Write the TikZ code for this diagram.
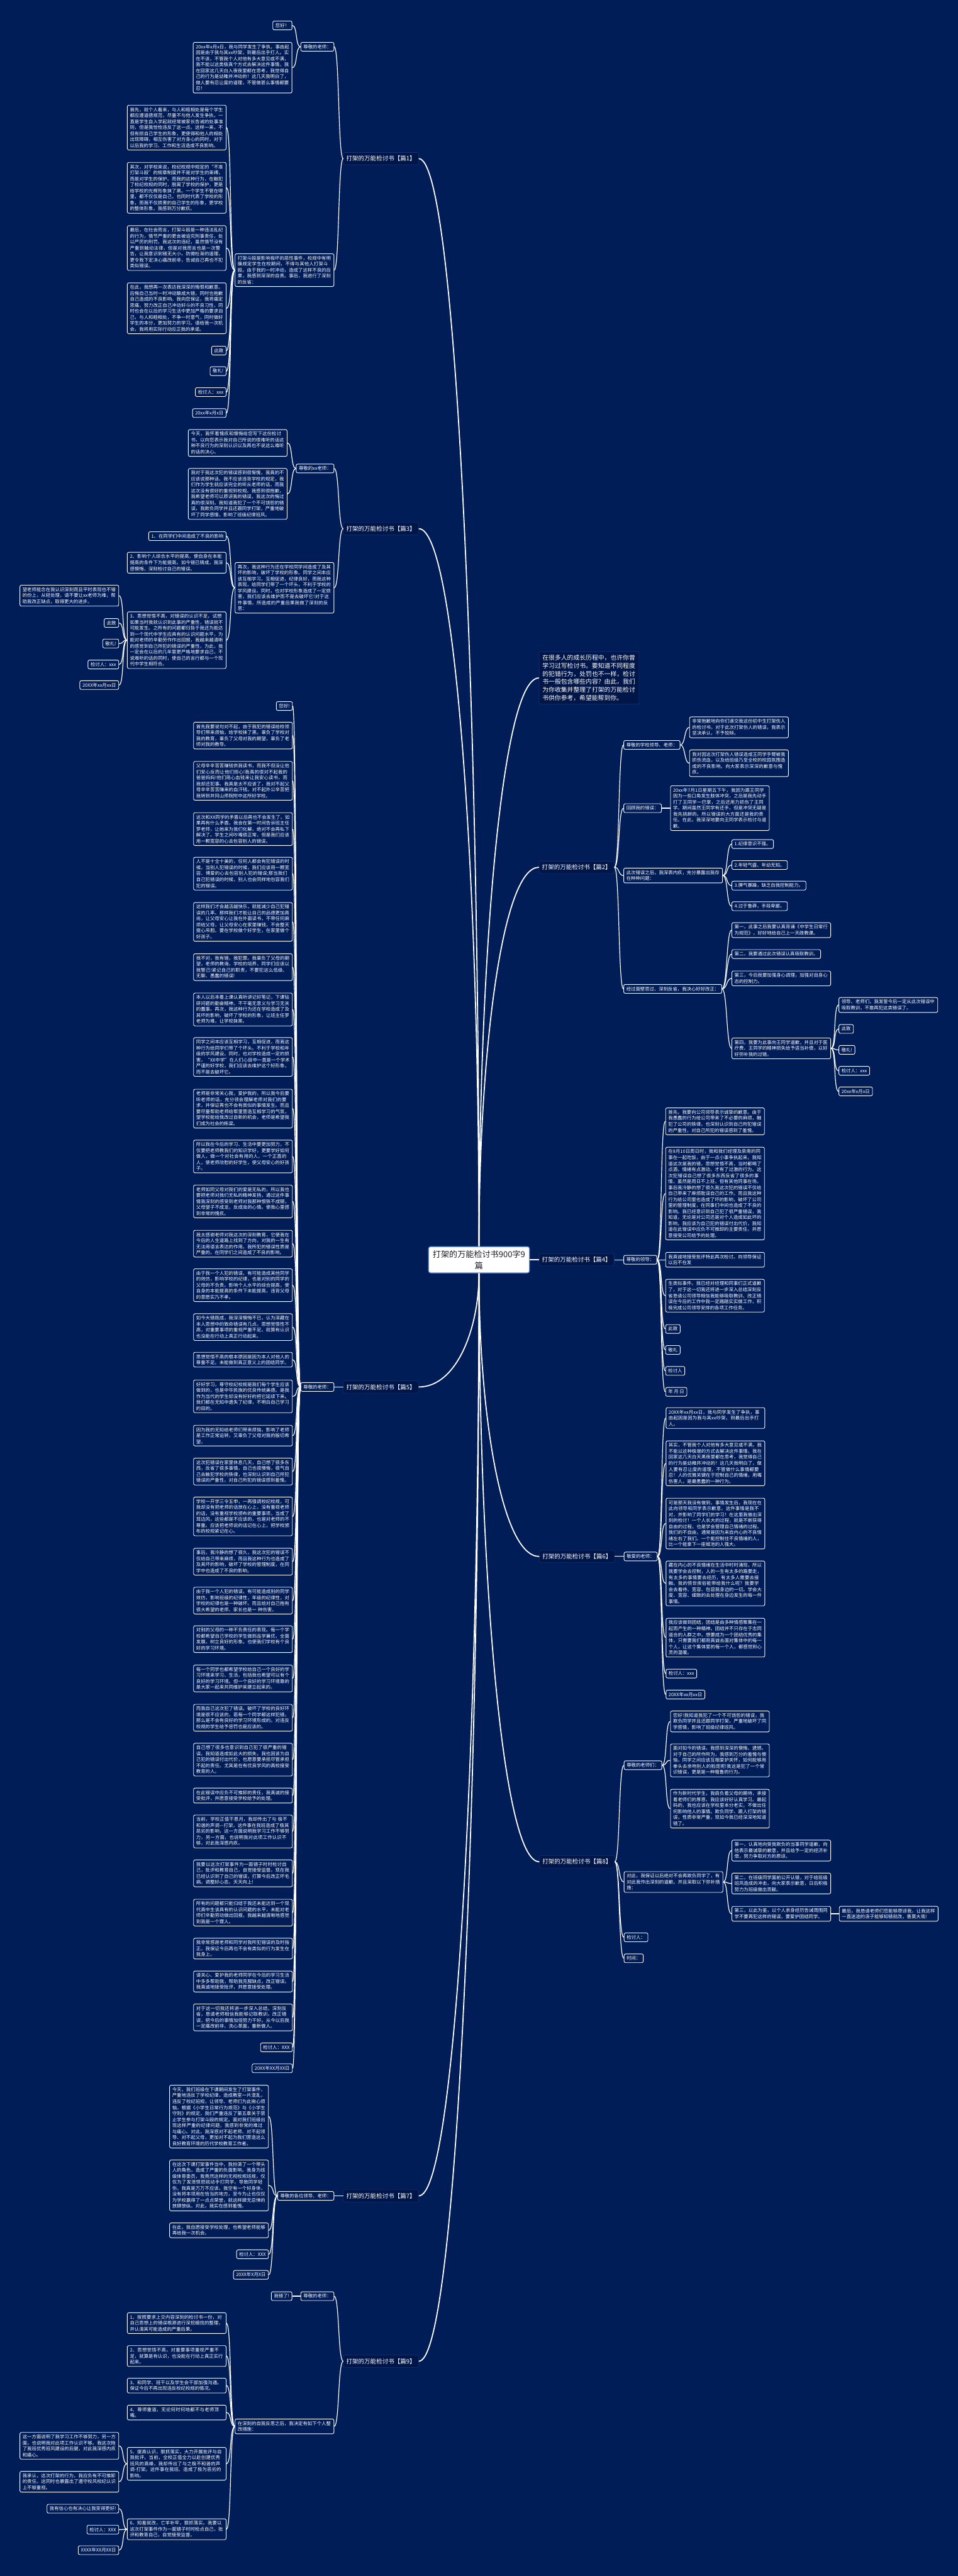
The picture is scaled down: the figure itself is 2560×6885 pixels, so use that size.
\documentclass[tikz,border=0pt]{standalone}
\usepackage{fontspec}
\setmainfont{Noto Sans CJK SC}
\XeTeXlinebreaklocale "zh"
\XeTeXlinebreakskip=0pt plus 1pt
\definecolor{bgc}{RGB}{1,29,88}
\definecolor{brc}{RGB}{0,22,72}
\definecolor{brd}{RGB}{25,50,115}
\definecolor{cbd}{RGB}{90,140,220}
\newcommand\myfs{\fontsize{12.4pt}{16pt}\selectfont}
\newcommand\myfb{\fontsize{16pt}{20pt}\selectfont}
\newcommand\myfi{\fontsize{16.5pt}{21.3pt}\selectfont}
\newcommand\myfc{\fontsize{22pt}{30pt}\selectfont}
\begin{document}
\begin{tikzpicture}[x=1pt,y=-1pt,
  lf/.style={draw=white,line width=1.5pt,fill=bgc,rounded corners=4pt,text=white,font=\myfs,inner xsep=7pt,inner ysep=6pt,align=left},
  lw/.style={lf,text width=250pt},
  br/.style={fill=brc,draw=brd,line width=1pt,rounded corners=4pt,text=white,font=\myfb,inner xsep=8pt,inner ysep=9pt},
  intro/.style={fill=brc,draw=brd,line width=1pt,rounded corners=4pt,text=white,font=\myfi,inner sep=9pt,text width=249pt,align=left},
  cen/.style={fill=white,draw=cbd,line width=2pt,rounded corners=6pt,text={rgb,255:red,30;green,30;blue,40},font=\myfc,inner sep=10pt,text width=250pt,align=center},
  ed/.style={draw=white,line width=2pt},
  tr/.style={draw=white,line width=3pt}]
\fill[bgc] (0,0) rectangle (2560,6885);
\useasboundingbox (0,0) rectangle (2560,6885);

% ---------- centre ----------
\node[cen] (c) at (1280,3367) {打架的万能检讨书900字9\\篇};

% ---------- 篇1 ----------
\node[br,anchor=east] (p1) at (1119,424) {打架的万能检讨书【篇1】};
\node[lf,anchor=east] (p1a) at (893,125) {尊敬的老师：};
\node[lf,anchor=east] (p1a1) at (781,68) {您好！};
\node[lw,anchor=east] (p1a2) at (781,181) {20xx年x月x日，我与同学发生了争执，事由起因是由于我与其xx吵架，到最后出手打人。实在不该，不管我个人对他有多大意见或不满，我不能以这类极真个方式去解决这件事情，我在回家这几天白入夜夜里都在思考，我觉得自己的行为是幼稚并冲动的！这几天我明白了，做人要有忍让度的道理，不管做甚么事情都要忍！};
\node[lw,anchor=east] (p1b) at (893,722) {打架斗殴是影响极坏的恶性事件，校规中有明确规定学生在校期间，不得与其他人打架斗殴。由于我的一时冲动，造成了这样不良的后果，我感到深深的自责。事后，我进行了深刻的反省：};
\node[lw,anchor=east] (p1b1) at (605,341) {首先，就个人看来，与人和睦相处是每个学生都应遵道德规范，尽量不与他人发生争执，一直是学生自入学起就经常被家长告诫的处事准则，但是我恰恰违反了这一点。这样一来，不但有损自己学生的形象，更使得和他人的相处出现障碍，相互伤害了对方身心的同时，对于以后我的学习、工作和生活造成不良影响。};
\node[lw,anchor=east] (p1b2) at (605,502) {其次，对学校来说，校纪校规中规定的“不准打架斗殴”的规章制度并不是对学生的束缚，而是对学生的保护。而我的这种行为，在触犯了校纪校规的同时，脱离了学校的保护，更是给学校的光辉形象抹了黑。一个学生不管在哪里，都不仅仅是自己，也同时代表了学校的形象，而我不仅损害的自己学生的形象，更学校的整体形象，我感到万分歉疚。};
\node[lw,anchor=east] (p1b3) at (605,663) {最后，在社会而言，打架斗殴是一种违法乱纪的行为，情节严重的更会被追究刑事责任，处以严厉的刑罚。我这次的违纪，虽然情节没有严重到触动法律，但是对我而言也是一次警告，让我意识到错无大小，防微杜渐的道理，更令我下定决心痛改前非，告诫自己再也不犯类似错误。};
\node[lw,anchor=east] (p1b4) at (605,824) {在此，我想再一次表达我深深的悔恨和歉意。后悔自己当时一时冲动酿成大错，同时也抱歉自己造成的不良影响。我向您保证，我将痛定思痛，努力改正自己冲动好斗的不良习性，同时也会在以后的学习生活中更加严格的要求自己，与人和睦相处，不争一时意气，同时做好学生的本分，更加努力的学习。请给我一次机会，我将用实际行动应正我的承诺。};
\node[lf,anchor=east] (p1b5) at (605,937) {此致};
\node[lf,anchor=east] (p1b6) at (605,992) {敬礼!};
\node[lf,anchor=east] (p1b7) at (605,1048) {检讨人：xxx};
\node[lf,anchor=east] (p1b8) at (605,1104) {20xx年x月x日};
\draw[tr] (c.north) .. controls +(0,-1452) and +(100,0) .. (p1.east);
\foreach \k in {p1a,p1b} \draw[ed] (p1.west) .. controls +(-14,0) and +(14,0) .. (\k.east);
\foreach \k in {p1a1,p1a2} \draw[ed] (p1a.west) .. controls +(-14,0) and +(14,0) .. (\k.east);
\foreach \k in {p1b1,p1b2,p1b3,p1b4,p1b5,p1b6,p1b7,p1b8} \draw[ed] (p1b.west) .. controls +(-14,0) and +(14,0) .. (\k.east);

% ---------- 篇3 ----------
\node[br,anchor=east] (p3) at (1119,1413) {打架的万能检讨书【篇3】};
\node[lf,anchor=east] (p3a) at (893,1252) {尊敬的xx老师：};
\node[lw,anchor=east] (p3a1) at (768,1184) {今天，我怀着愧疚和懊悔给您写下这份检讨书，以向您表示我对自己所说的很难听的话这种不良行为的深刻认识以及再也不说这么难听的话的决心。};
\node[lw,anchor=east] (p3a2) at (768,1320) {我对于我这次犯的错误感到很惭愧，我真的不应该说那种话，我不应该违背学校的规定，我们作为学生就应该完全的听从老师的话，而我这次没有很好的重视到校规。我感到很抱歉，我希望老师可以原谅我的错误，我这次的悔过真的很深刻。我知道我犯了一个不可饶恕的错误，我欺负同学并且还跟同学打架，严重地破坏了同学感情，影响了班级纪律班风。};
\node[lw,anchor=east] (p3b) at (893,1571) {再次，我这种行为还在学校同学间造成了及其坏的影响，破坏了学校的形象。同学之间本应该互相学习，互相促进，纪律良好，而我这种表现，给同学们带了一个坏头，不利于学校的学风建设。同时，也对学校形象造成了一定损害，我们应该去维护而不是去破坏它!对于这件事情，所造成的严重后果我做了深刻的反思：};
\node[lf,anchor=east] (p3b1) at (605,1433) {1、在同学们中间造成了不良的影响};
\node[lw,anchor=east] (p3b2) at (605,1504) {2、影响个人综合水平的提高，使自身在本能提高的条件下为能提高。如今错已铸成，我深感懊悔，深刻检讨自己的错误。};
\node[lw,anchor=east] (p3b3) at (605,1711) {3、思想觉悟不高，对错误的认识不足，试想如果当时我就认识到此事的严重性，错误就不可能发生。之所有的问题都归咎于我还为能达到一个现代中学生应具有的认识问题水平，为能对老师的辛勤劳作作出回报，我越来越清晰的感觉到自己所犯的错误的严重性，为此，我一定会在以后的几年里更严格地要求自己，不说难听的话的同时，使自己的言行都与一个现代中学生相符合。};
\node[lw,anchor=east] (p3c1) at (318,1592) {望老师能念在我认识深刻而且平时表现也不错的份上，从轻处理，请不要让xx老师为难，帮助我改正缺点，取得更大的进步。};
\node[lf,anchor=east] (p3c2) at (318,1665) {此致};
\node[lf,anchor=east] (p3c3) at (318,1720) {敬礼!};
\node[lf,anchor=east] (p3c4) at (318,1776) {检讨人：xxx};
\node[lf,anchor=east] (p3c5) at (318,1831) {20XX年xx月xx日};
\draw[tr] (c.north) .. controls +(0,-958) and +(100,0) .. (p3.east);
\foreach \k in {p3a,p3b} \draw[ed] (p3.west) .. controls +(-14,0) and +(14,0) .. (\k.east);
\foreach \k in {p3a1,p3a2} \draw[ed] (p3a.west) .. controls +(-14,0) and +(14,0) .. (\k.east);
\foreach \k in {p3b1,p3b2,p3b3} \draw[ed] (p3b.west) .. controls +(-14,0) and +(14,0) .. (\k.east);
\foreach \k in {p3c1,p3c2,p3c3,p3c4,p3c5} \draw[ed] (p3b3.west) .. controls +(-14,0) and +(14,0) .. (\k.east);

% ---------- intro ----------
\node[intro,anchor=west] (in) at (1440,1812) {在很多人的成长历程中，也许你曾学习过写检讨书。要知道不同程度的犯错行为，处罚也不一样，检讨书一般包含哪些内容？由此，我们为你收集并整理了打架的万能检讨书供你参考，希望能帮到你。};
\draw[tr] (c.north) .. controls +(0,-758) and +(-100,0) .. (in.west);

% ---------- 篇2 ----------
\node[br,anchor=west] (p2) at (1440,2318) {打架的万能检讨书【篇2】};
\node[lf,anchor=west] (p2a) at (1666,1991) {尊敬的学校领导、老师：};
\node[lw,anchor=west] (p2a1) at (1842,1944) {非常抱歉地向你们递交我这份初中生打架伤人的检讨书。对于此次打架伤人的错误，我表示坚决承认，不予狡辩。};
\node[lw,anchor=west] (p2a2) at (1842,2040) {我对因这次打架伤人错误造成王同学手臂被我抓伤流血，以及给班级乃至全校的校园氛围造成的不良影响。向大家表示深深的歉意与愧疚。};
\node[lf,anchor=west] (p2b) at (1666,2160) {回顾我的错误：};
\node[lw,anchor=west] (p2b1) at (1791,2160) {20xx年7月1日星期五下午，我因为跟王同学因为一些口角发生肢体冲突，之后是我先动手打了王同学一巴掌，之后还用力抓伤了王同学。期间虽然王同学有还手，但是冲突无疑是我先挑衅的。所以错误的大方面还是我的责任。在此，我深深地要向王同学表示检讨与道歉。};
\node[lw,anchor=west] (p2c) at (1666,2340) {此次错误之后，我深表内疚，充分暴露出我存在种种问题：};
\node[lf,anchor=west] (p2c1) at (1955,2256) {1.纪律意识不强。};
\node[lf,anchor=west] (p2c2) at (1955,2312) {2.年轻气盛、年幼无知。};
\node[lf,anchor=west] (p2c3) at (1955,2367) {3.脾气暴躁，缺乏自我控制能力。};
\node[lf,anchor=west] (p2c4) at (1955,2422) {4.过于鲁莽，手段卑鄙。};
\node[lf,anchor=west] (p2d) at (1666,2643) {经过面壁思过、深刻反省，我决心好好改正：};
\node[lw,anchor=west] (p2d1) at (1955,2486) {第一，此事之后我要认真背诵《中学生日常行为规范》，好好地给自己上一天政教课。};
\node[lf,anchor=west] (p2d2) at (1955,2550) {第二，我要通过此次错误认真吸取教训。};
\node[lw,anchor=west] (p2d3) at (1955,2615) {第三，今后我要加强身心调理，加强对自身心态的控制力。};
\node[lw,anchor=west] (p2d4) at (1955,2802) {第四，我要为此事向王同学道歉，并且对于医疗费、王同学的精神损失给予适当补偿，以好好弥补我的过错。};
\node[lw,anchor=west] (p2e1) at (2241,2686) {领导、老师们，我发誓今后一定从此次错误中吸取教训，不敢再犯这类错误了。};
\node[lf,anchor=west] (p2e2) at (2241,2750) {此致};
\node[lf,anchor=west] (p2e3) at (2241,2806) {敬礼!};
\node[lf,anchor=west] (p2e4) at (2241,2862) {检讨人：xxx};
\node[lf,anchor=west] (p2e5) at (2241,2917) {20xx年x月x日};
\draw[tr] (c.north) .. controls +(0,-505) and +(-100,0) .. (p2.west);
\foreach \k in {p2a,p2b,p2c,p2d} \draw[ed] (p2.east) .. controls +(14,0) and +(-14,0) .. (\k.west);
\foreach \k in {p2a1,p2a2} \draw[ed] (p2a.east) .. controls +(14,0) and +(-14,0) .. (\k.west);
\draw[ed] (p2b.east) -- (p2b1.west);
\foreach \k in {p2c1,p2c2,p2c3,p2c4} \draw[ed] (p2c.east) .. controls +(14,0) and +(-14,0) .. (\k.west);
\foreach \k in {p2d1,p2d2,p2d3,p2d4} \draw[ed] (p2d.east) .. controls +(14,0) and +(-14,0) .. (\k.west);
\foreach \k in {p2e1,p2e2,p2e3,p2e4,p2e5} \draw[ed] (p2d4.east) .. controls +(14,0) and +(-14,0) .. (\k.west);

% ---------- 篇4 ----------
\node[br,anchor=west] (p4) at (1440,3367) {打架的万能检讨书【篇4】};
\node[lf,anchor=west] (p4a) at (1666,3367) {尊敬的领导：};
\node[lw,anchor=west] (p4a1) at (1778,2997) {首先，我要向公司领导表示诚挚的歉意。由于我愚蠢的行为给公司带来了不必要的麻烦，触犯了公司的铁律，也深刻认识到自己所犯错误的严重性，对自己所犯的错误感到了羞愧。};
\node[lw,anchor=west] (p4a2) at (1778,3190) {在8月10日周日时，我和我们经理及泉南的同事在一起吃饭，由于一点小事争执起来，我知道这次是我的错，思想觉悟不高，当时都喝了点酒，情绪有点激动，才有了过激的行为。这次犯错误自己想了很多东西反省了很多的事情，虽然是周日不上班，但有其他同事在场。事后我冷静的想了很久我这次犯的错误不仅给自己带来了麻烦耽误自己的工作。而且我这种行为给公司里也造成了坏的影响，破坏了公司里的管理制度，在同事们中间也造成了不良的影响。我已经意识到自己犯了很严重错误，我知道，无论是对公司还是对个人造成如此坏的影响，我应该为自己犯的错误付出代价，我知道在此错误中应负不可推卸的主要责任，并愿意接受公司给予的处理。};
\node[lw,anchor=west] (p4a3) at (1778,3367) {我真诚地接受批评特此再次检讨。向领导保证以后不在发};
\node[lw,anchor=west] (p4a4) at (1778,3463) {生类似事件。我已经对经理和同事们正式道歉了，对于这一切我还将进一步深入总结深刻反省恳请公司领导相信我能够吸取教训、改正错误在今后的工作中我一定踏踏实实做工作，积极完成公司领导安排的各项工作任务。};
\node[lf,anchor=west] (p4a5) at (1778,3552) {此致};
\node[lf,anchor=west] (p4a6) at (1778,3608) {敬礼};
\node[lf,anchor=west] (p4a7) at (1778,3664) {检讨人};
\node[lf,anchor=west] (p4a8) at (1778,3720) {年 月 日};
\draw[tr] (c.east) -- (p4.west);
\draw[ed] (p4.east) -- (p4a.west);
\foreach \k in {p4a1,p4a2,p4a3,p4a4,p4a5,p4a6,p4a7,p4a8} \draw[ed] (p4a.east) .. controls +(14,0) and +(-14,0) .. (\k.west);

% ---------- 篇5 ----------
\node[br,anchor=east] (p5) at (1119,3707) {打架的万能检讨书【篇5】};
\node[lf,anchor=east] (p5a) at (893,3707) {尊敬的老师：};
\node[lf,anchor=east] (q1) at (782,1887) {您好!};
\node[lw,anchor=east] (q2) at (782,1966) {首先我要说句对不起，由于我犯的错误给校领导们带来烦恼，给学校抹了黑。辜负了学校对我的教育，辜负了父母对我的期望，辜负了老师对我的教导。};
\node[lw,anchor=east] (q3) at (782,2087) {父母辛辛苦苦赚钱供我读书，而我不但没让他们安心反而让他们担心!我真的很对不起我的爸爸妈妈!他们用心血钱来让我安心读书，而我却还犯事。我真是太不应该了，我对不起父母辛辛苦苦赚来的血汗钱。对不起外公辛苦把我转到井冈山师院附中这所好学校。};
\node[lw,anchor=east] (q4) at (782,2216) {这次和XX同学的矛盾以后再也不会发生了。如果再有什么矛盾，我会在第一时间告诉班主任罗老师，让她来为我们化解，绝对不会再私下解决了。学生之间吵嘴很正常，但是我们应该用一颗宽容的心去包容别人的错误。};
\node[lw,anchor=east] (q5) at (782,2335) {人不是十全十美的，任何人都会有犯错误的时候。当别人犯错误的时候，我们应该用一颗宽容、博爱的心去包容别人犯的错误;那当我们自己犯错误的时候，别人也会同样地包容我们犯的错误。};
\node[lw,anchor=east] (q6) at (782,2464) {这样我们才会越活越快乐，就能减少自己犯错误的几率。那样我们才能让自己的品德更加高尚，让父母安心让我在外面读书，不带任何麻烦给父母，让父母安心在家里赚钱，不会整天提心吊胆。要在学校做个好学生，在家里做个好孩子。};
\node[lw,anchor=east] (q7) at (782,2585) {我不对，我有错，我犯罪。我辜负了父母的期望，老师的教诲，学校的培养，同学们应该以我警己!紧记自己的职责，不要犯这么低级、无聊、愚蠢的错误!};
\node[lw,anchor=east] (q8) at (782,2698) {本人以后本着上课认真听讲记好笔记，下课钻研问题的勤奋精神。不干毫无意义与学习无关的蠢事。再次，我这种行为还在学校造成了及其坏的影响，破坏了学校的形象，让班主任罗老师为难，让学校抹黑。};
\node[lw,anchor=east] (q9) at (782,2825) {同学之间本应该互相学习，互相促进，而我这种行为给同学们带了个坏头。不利于学校和年级的学风建设。同时，也对学校造成一定的损害。“XX中学”在人们心目中一直是一个学术严谨的好学校，我们应该去维护这个好形象，而不是去破坏它。};
\node[lw,anchor=east] (q10) at (782,2963) {老师是非常关心我，爱护我的，所以我今后要听老师的话，充分领会理解老师对我们的要求，并保证再也不会有类似的事情发生。而且要尽量帮助老师给帮里营造互相学习的气氛，望学校能给我改过自新的机会，老师是希望我们成为社会的栋梁。};
\node[lw,anchor=east] (q11) at (782,3091) {所以我在今后的学习、生活中要更加努力，不仅要把老师教我们的知识学好，更要学好如何做人，做一个对社会有用的人，一个正直的人，使老师欣慰的好学生，使父母安心的好孩子。};
\node[lw,anchor=east] (q12) at (782,3211) {老师如同父母对我们的爱是无私的，所以我也要把老师对我们无私的精神发扬，通过这件事情我深刻的感受到老师对我那种恨铁不成钢，父母望子不成龙，反成虫的心情。使我心里感到非常的愧疚。};
\node[lw,anchor=east] (q13) at (782,3324) {我太感谢老师对我这次的深刻教育，它使我在今后的人生道路上找到了方向，对我的一生有无法用语言表达的作用。我所犯的错误性质是严重的。在同学们之间造成了不良的影响。};
\node[lw,anchor=east] (q14) at (782,3435) {由于我一个人犯的错误，有可能造成其他同学的效仿，影响学校的纪律，也是对别的同学的父母的不负责。影响个人水平的综合提高，使自身的本能提高的条件下未能提高，违背父母的意愿实乃不孝。};
\node[lw,anchor=east] (q15) at (782,3547) {如今大错既成，我深深懊悔不已，认为深藏在本人思想中的致命错误有几点。思想觉悟性不高，对重要事项的重视严重不足。就算有认识也没能在行动上真正行动起来。};
\node[lw,anchor=east] (q16) at (782,3634) {思想觉悟不高的根本原因是因为本人对他人的尊重不足。未能做到真正意义上的团结同学。};
\node[lw,anchor=east] (q17) at (782,3732) {好好学习，尊守校纪校规是我们每个学生应该做到的，也是中华民族的优良传统美德。是我作为当代的学生却没有好好的把它延续下来。我们都在无知中遗失了纪律，不明白自己学习的目的。};
\node[lw,anchor=east] (q18) at (782,3837) {因为我的无知给老师们带来烦恼，影响了老师是工作正常运转，又辜负了父母对我的殷切希望。};
\node[lw,anchor=east] (q19) at (782,3933) {这次犯错误在家里休息几天，自己想了很多东西，反省了很多事情，自己也很懊悔，很气自己去触犯学校的铁律，也深刻认识到自己所犯错误的严重性，对自己所犯的错误感到羞愧。};
\node[lw,anchor=east] (q20) at (782,4053) {学校一开学三令五申，一再强调校纪校规，可我却没有把老师的话放在心上，没有重视老师的话，没有重视学校颁布的重要事项，当成了耳边风，这些都是不应该的，也是对老师的不尊重。应该把老师说的话记在心上，把学校颁布的校规紧记在心。};
\node[lw,anchor=east] (q21) at (782,4174) {事后，我冷静的想了很久，我这次犯的错误不仅给自己带来麻烦，而且我这种行为也造成了及其坏的影响，破坏了学校的管理制度，在同学中也造成了不良的影响。};
\node[lw,anchor=east] (q22) at (782,4278) {由于我一个人犯的错误，有可能造成别的同学效仿，影响班级的纪律性，年级的纪律性，对学校的纪律也是一种破坏。而且给对自己抱有很大希望的老师、家长也是一 种伤害。};
\node[lw,anchor=east] (q23) at (782,4381) {对别的父母的一种不负责任的表现。每一个学校都希望自己学校的学生做到品学兼优，全面发展，树立良好的形象。也使我们学校有个良好的学习环境。};
\node[lw,anchor=east] (q24) at (782,4486) {每一个同学也都希望学校给自己一个良好的学习环境来学习、生活，包括我也希望可以有个良好的学习环境。但一个良好的学习环境靠的是大家一起来共同维护来建立起来的。};
\node[lw,anchor=east] (q25) at (782,4591) {而我自己这次犯了错误。破坏了学校的良好环境是很不应该的，若每一个同学都这样犯错，那么是不会有良好的学习环境形成的。对违反校规的学生给予惩罚也是应该的。};
\node[lw,anchor=east] (q26) at (782,4703) {自己想了很多也意识到自己犯了很严重的错误。我知道造成如此大的损失，我也因该为自己犯的错误付出代价，也愿意要承担尽管承担不起的责任。尤其是在有优良学风的高校接受教育的人。};
\node[lw,anchor=east] (q27) at (782,4799) {在此错误中应负不可推卸的责任，我真诚的接受批评，并愿意接受学校给予的处理。};
\node[lw,anchor=east] (q28) at (782,4895) {当前，学校正值干恩月，我却传出了与 极不和谐的声调—打架，这件事在我班造成了极其恶劣的影响，这一方面说明我学习工作不够努力，另一方面，也说明我对此项工作认识不够，对此我深感内疚。};
\node[lw,anchor=east] (q29) at (782,5007) {我要以这次打架事件为一面镜子时时检讨自己，批评和教育自己，自觉接受监督。现在我已经认识到了自己的错误，打算今后改正坏毛病。调整好心态，天天向上!};
\node[lw,anchor=east] (q30) at (782,5112) {所有的问题都只能归结于我还未能达到一个现代高中生该具有的认识问题的水平，未能对老师们辛勤劳动做出回报，我越来越清晰地感觉到我是一个罪人。};
\node[lw,anchor=east] (q31) at (782,5208) {我非常感谢老师和同学对我所犯错误的及时指正。我保证今后再也不会有类似的行为发生在我身上。};
\node[lw,anchor=east] (q32) at (782,5296) {请关心、爱护我的老师同学在今后的学习生活中多多帮助我，帮助我克服缺点，改正错误。我真诚地接受批评，并愿意接受处理。};
\node[lw,anchor=east] (q33) at (782,5392) {对于这一切我还将进一步深入总结，深刻反省，恳请老师相信我能够记取教训，改正错误，把今后的事情加倍努力干好。从今以后我一定痛改前非，洗心革面，重新做人。};
\node[lf,anchor=east] (q34) at (782,5472) {检讨人：XXX};
\node[lf,anchor=east] (q35) at (782,5528) {20XX年XX月XX日};
\draw[tr] (c.south) .. controls +(0,150) and +(100,0) .. (p5.east);
\draw[ed] (p5.west) -- (p5a.east);
\foreach \k in {q1,q2,q3,q4,q5,q6,q7,q8,q9,q10,q11,q12,q13,q14,q15,q16,q17,q18,q19,q20,q21,q22,q23,q24,q25,q26,q27,q28,q29,q30,q31,q32,q33,q34,q35} \draw[ed] (p5a.west) .. controls +(-14,0) and +(14,0) .. (\k.east);

% ---------- 篇6 ----------
\node[br,anchor=west] (p6) at (1441,4160) {打架的万能检讨书【篇6】};
\node[lf,anchor=west] (p6a) at (1667,4160) {敬爱的老师：};
\node[lw,anchor=west] (p6a1) at (1779,3790) {20XX年xx月xx日，我与同学发生了争执，事由起因是因为我与其xx吵架，到最后出手打人。};
\node[lw,anchor=west] (p6a2) at (1779,3911) {其实，不管我个人对他有多大意见或不满，我不能以这种极端的方式去解决这件事情，我在回家这几天白天黑夜里都在思考，我觉得自己的行为是幼稚并冲动的！这几天我明白了，做人要有忍让度的道理，不管做什么事情都要忍！人的优雅关键在于控制自己的情绪，用嘴伤害人，是最愚蠢的一种行为。};
\node[lw,anchor=west] (p6a3) at (1779,4072) {可是那天我没有做到，事情发生后，我现在在此向领导和同学表示歉意，这件事情是我不对，并影响了同学们的学习！在这里我做出深刻的检讨！一个人长大的过程，就是不断获得自由的过程，也是学会管理自己情绪的过程。我们的不自由，通常是因为来自内心的不良情绪左右了我们。一个能控制住不良情绪的人，比一个能拿下一座城池的人强大。};
\node[lw,anchor=west] (p6a4) at (1779,4232) {藏在内心的不良情绪在生活中时时涌现，所以我要学会去控制，人的一生有太多的路要走，有太多的事情要去经历，有太多人需要去接触。我的愤世疾俗能带给我什么呢？我要学会去看待、宽容、包容我身边的一切。学会大度、宽容、细致的去处理在身边发生的每一件事情。};
\node[lw,anchor=west] (p6a5) at (1779,4377) {我应该做到团结，团结是由多种情感聚集在一起而产生的一种精神。团结并不只存在于志同道合的人群之中。想要成为一个团结优秀的集体，只需要我们都用真诚去面对集体中的每一个人，让这个集体里的每一个人，都感觉到心灵的温暖。};
\node[lf,anchor=west] (p6a6) at (1779,4473) {检讨人：xxx};
\node[lf,anchor=west] (p6a7) at (1779,4529) {20XX年xx月xx日};
\draw[tr] (c.south) .. controls +(0,377) and +(-100,0) .. (p6.west);
\draw[ed] (p6.east) -- (p6a.west);
\foreach \k in {p6a1,p6a2,p6a3,p6a4,p6a5,p6a6,p6a7} \draw[ed] (p6a.east) .. controls +(14,0) and +(-14,0) .. (\k.west);

% ---------- 篇8 ----------
\node[br,anchor=west] (p8) at (1441,4976) {打架的万能检讨书【篇8】};
\node[lf,anchor=west] (p8a) at (1667,4718) {尊敬的老师们：};
\node[lw,anchor=west] (p8a1) at (1791,4601) {您好!我知道我犯了一个不可饶恕的错误，我欺负同学并且还跟同学打架，严重地破坏了同学感情，影响了班级纪律班风。};
\node[lw,anchor=west] (p8a2) at (1791,4705) {面对如今的错误，我感到深深的懊悔、遗憾。对于自己的所作所为，我感到万分的羞愧与懊恼，同学之间应该互相爱护关怀，如何能够用拳头去亲吻别人的脸庞呢!我这是犯了一个常识错误，更是是一种粗鲁的行为。};
\node[lw,anchor=west] (p8a3) at (1791,4834) {作为新时代学生，我肩负着父母的期待，承接着老师们的厚恩，我应该好好认真学习。最起码的，我也应该在学校里本分老实，不做出任何影响他人的事情。欺负同学、跟人打架的错误，性质非常严重，现如今我已经深深地知道错了。};
\node[lw,anchor=west] (p8b) at (1667,5030) {对此，我保证以后绝对不会再欺负同学了，有对此我作出深刻的道歉。并且采取以下弥补措施：};
\node[lw,anchor=west] (p8b1) at (1955,4946) {第一，认真地向受我欺负的当事同学道歉，向他表示最诚挚的歉意，并且给予一定的经济补偿，努力争取对方的原谅。};
\node[lw,anchor=west] (p8b2) at (1955,5034) {第二，在班级同学面前公开认错，对于给班级班风造成的冲击，向大家表示歉意，日后积极努力为班级做出贡献。};
\node[lw,anchor=west] (p8b3) at (1955,5115) {第三，以此为鉴，以个人亲身经历告诫周围同学不要再犯这样的错误，要爱护团结同学。};
\node[lw,anchor=west] (p8b4) at (2242,5115) {最后，我恳请老师们您能够原谅我，让我这样一直迷途的浪子能够知错就改，善莫大焉!};
\node[lf,anchor=west] (p8c) at (1667,5178) {检讨人：};
\node[lf,anchor=west] (p8d) at (1667,5234) {时间：};
\draw[tr] (c.south) .. controls +(0,785) and +(-100,0) .. (p8.west);
\foreach \k in {p8a,p8b,p8c,p8d} \draw[ed] (p8.east) .. controls +(14,0) and +(-14,0) .. (\k.west);
\foreach \k in {p8a1,p8a2,p8a3} \draw[ed] (p8a.east) .. controls +(14,0) and +(-14,0) .. (\k.west);
\foreach \k in {p8b1,p8b2,p8b3} \draw[ed] (p8b.east) .. controls +(14,0) and +(-14,0) .. (\k.west);
\draw[ed] (p8b3.east) -- (p8b4.west);

% ---------- 篇7 ----------
\node[br,anchor=east] (p7) at (1119,5869) {打架的万能检讨书【篇7】};
\node[lf,anchor=east] (p7a) at (893,5869) {尊敬的各位领导、老师：};
\node[lw,anchor=east] (p7a1) at (718,5657) {今天，我们班级在下课期间发生了打架事件，严重地违反了学校纪律，造成教室一片混乱，违反了校纪班规，让领导、老师们为此揪心烦恼，根据《小学生日常行为规范》与《小学生守则》的规定，我们严重违反了第五章关于禁止学生参与打架斗殴的规定。面对我们班级出现这样严重的纪律问题，我感到非常的难过与痛心。对此，我深感对不起老师、对不起领导、对不起父母，更加对不起为我们营造这么良好教育环境的历代学校教育工作者。};
\node[lw,anchor=east] (p7a2) at (718,5841) {在这次下课打架事件当中，我扮演了一个带头人的角色，造成了严重的负面影响。我身为班级体育委员，我竟然这样的无视校规班规，仅仅为了发泄愤怒就动手打同学，导致同学轻伤，我真是万万不应该。我空有一个好身体，没有将本领用在恰当的地方，至今为止也仅仅为学校赢得了一点点荣誉，就这样肆无忌惮的放肆放纵。对此，我实在感到羞愧。};
\node[lw,anchor=east] (p7a3) at (718,5961) {在此，我自愿接受学校处理，也希望老师能够再给我一次机会。};
\node[lf,anchor=east] (p7a4) at (718,6025) {检讨人：XXX};
\node[lf,anchor=east] (p7a5) at (718,6080) {20XX年X月X日};
\draw[tr] (c.south) .. controls +(0,1231) and +(100,0) .. (p7.east);
\draw[ed] (p7.west) -- (p7a.east);
\foreach \k in {p7a1,p7a2,p7a3,p7a4,p7a5} \draw[ed] (p7a.west) .. controls +(-14,0) and +(14,0) .. (\k.east);

% ---------- 篇9 ----------
\node[br,anchor=east] (p9) at (1119,6311) {打架的万能检讨书【篇9】};
\node[lf,anchor=east] (p9a) at (893,6137) {尊敬的老师：};
\node[lf,anchor=east] (p9a1) at (781,6137) {我错了!};
\node[lw,anchor=east] (p9b) at (893,6485) {在深刻的自我反思之后，我决定有如下个人整改措施：};
\node[lw,anchor=east] (p9b1) at (605,6209) {1、按照要求上交内容深刻的检讨书一份，对自己思想上的错误根源进行深挖细找的整理，并认清其可能造成的严重后果。};
\node[lw,anchor=east] (p9b2) at (605,6297) {2、思想觉悟不高，对重要事项重视严重不足，就算是有认识，也没能在行动上真正实行起来。};
\node[lw,anchor=east] (p9b3) at (605,6376) {3、和同学、班干以及学生会干部加强沟通。保证今后不再出现违反校纪校规的情况。};
\node[lw,anchor=east] (p9b4) at (605,6448) {4、尊师重道，无论何时何地都不与老师顶嘴。};
\node[lw,anchor=east] (p9b5) at (605,6585) {5、提高认识，狠抓落实，大力开展批评与自我批评。当前，全校正值全力以赴创建优秀班风的高峰，我却传出了与之极不和谐的声调-打架。这件事在我班、造成了极为恶劣的影响。};
\node[lw,anchor=east] (p9b6) at (605,6760) {6、知羞就改，亡羊补牢，狠抓落实。我要以这次打架事件作为一面镜子时时检点自己，批评和教育自己，自觉接受监督。};
\node[lw,anchor=east] (p9c1) at (318,6537) {这一方面说明了我学习工作不够努力，另一方面，也说明我对此项工作认识不够。我这次拖了我班优秀班风建设的后腿，对此我深感内疚和痛心。};
\node[lw,anchor=east] (p9c2) at (318,6633) {我承认，这次打架的行为，我应负有不可推卸的责任。这同时也暴露出了遵守校风校纪认识上不够重视。};
\node[lf,anchor=east] (p9d1) at (318,6705) {我有信心也有决心让我变得更好!};
\node[lf,anchor=east] (p9d2) at (318,6761) {检讨人：XXX};
\node[lf,anchor=east] (p9d3) at (318,6816) {XXXX年XX月XX日};
\draw[tr] (c.south) .. controls +(0,1452) and +(100,0) .. (p9.east);
\foreach \k in {p9a,p9b} \draw[ed] (p9.west) .. controls +(-14,0) and +(14,0) .. (\k.east);
\draw[ed] (p9a.west) -- (p9a1.east);
\foreach \k in {p9b1,p9b2,p9b3,p9b4,p9b5,p9b6} \draw[ed] (p9b.west) .. controls +(-14,0) and +(14,0) .. (\k.east);
\foreach \k in {p9c1,p9c2} \draw[ed] (p9b5.west) .. controls +(-14,0) and +(14,0) .. (\k.east);
\foreach \k in {p9d1,p9d2,p9d3} \draw[ed] (p9b6.west) .. controls +(-14,0) and +(14,0) .. (\k.east);
\end{tikzpicture}
\end{document}
